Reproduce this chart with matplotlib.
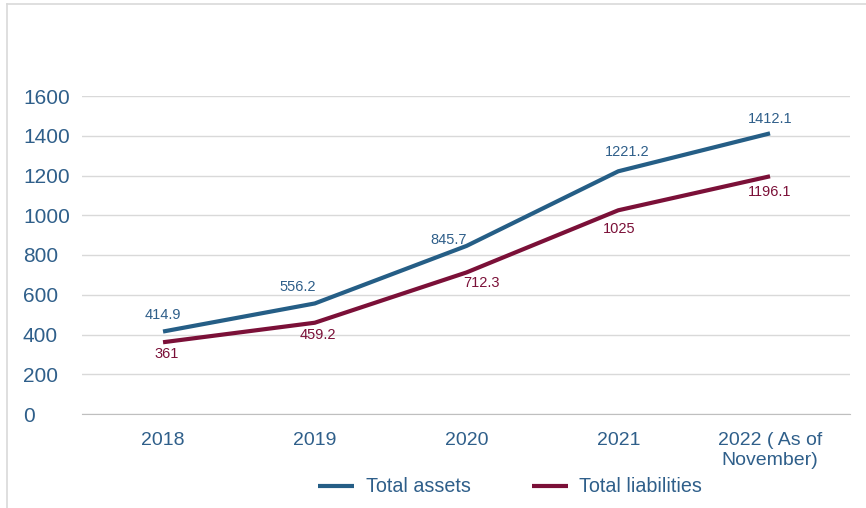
import matplotlib
matplotlib.use('Agg')
import matplotlib.pyplot as plt
from matplotlib.lines import Line2D
from matplotlib import rcParams

rcParams['font.family'] = ['Liberation Sans', 'DejaVu Sans']

# data
years = ['2018', '2019', '2020', '2021', '2022 ( As of\nNovember)']
total_assets = [414.9, 556.2, 845.7, 1221.2, 1412.1]
total_liabilities = [361, 459.2, 712.3, 1025, 1196.1]
y_ticks = [0, 200, 400, 600, 800, 1000, 1200, 1400, 1600]

blue = '#255E86'
red = '#7B1038'
text_blue = '#2F5F8A'

# label offsets in pixels (dx, dy)
assets_off = [(0, 17), (-17, 16), (-18, 6), (9, 19), (0, 14)]
liab_off = [(4, -12), (3, -12), (15, -11), (1, -19), (0, -16)]

fig = plt.figure(figsize=(8.66, 5.08), dpi=100)
ax = fig.add_axes([82 / 866, 1 - 414 / 508, 768 / 866, 318 / 508])

x = list(range(len(years)))
ax.plot(x, total_assets, color=blue, lw=3, solid_capstyle='butt',
        label='Total assets', zorder=3)
ax.plot(x, total_liabilities, color=red, lw=3, solid_capstyle='butt',
        label='Total liabilities', zorder=3)

for i, v in enumerate(total_assets):
    ax.annotate(f'{v:g}', (i, v), xytext=assets_off[i],
                textcoords='offset pixels', ha='center', va='center',
                color=text_blue, fontsize=10.5)
for i, v in enumerate(total_liabilities):
    ax.annotate(f'{v:g}', (i, v), xytext=liab_off[i],
                textcoords='offset pixels', ha='center', va='center',
                color=red, fontsize=10.5)

ax.set_xlim(-0.534, 4.527)
ax.set_ylim(0, 1600)
ax.set_yticks(y_ticks)
ax.set_xticks(x)
ax.set_xticklabels(years, linespacing=1.25)
ax.tick_params(axis='both', length=0, labelcolor=text_blue)
ax.tick_params(axis='x', labelsize=14, pad=13)
# y labels are left aligned near the frame edge
ax.tick_params(axis='y', labelsize=15, pad=42.5)
for lbl in ax.get_yticklabels():
    lbl.set_horizontalalignment('left')
ax.grid(axis='y', color='#D9D9D9', lw=1)
ax.set_axisbelow(True)
for s in ['top', 'right', 'left']:
    ax.spines[s].set_visible(False)
ax.spines['bottom'].set_color('#BFBFBF')

fig.legend(loc='center', bbox_to_anchor=(510 / 866, 1 - 487 / 508), ncol=2,
           frameon=False, fontsize=14.2, labelcolor=text_blue,
           handlelength=1.85, columnspacing=3.1, handletextpad=0.57)

# partial frame around the chart
fig.add_artist(Line2D([7 / 866, 1], [1 - 4 / 508] * 2, color='#D9D9D9', lw=1.2))
fig.add_artist(Line2D([7 / 866] * 2, [0, 1 - 4 / 508], color='#D9D9D9', lw=1.2))

fig.savefig('out.png', dpi=100)
